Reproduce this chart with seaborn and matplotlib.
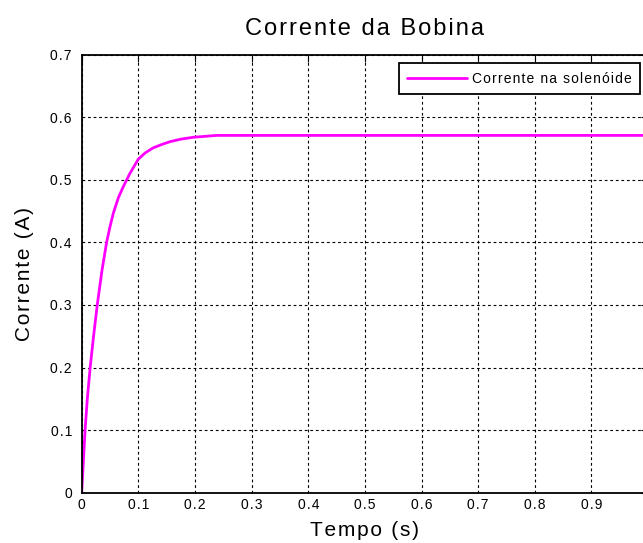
import numpy as np
import matplotlib
matplotlib.use("Agg")
import matplotlib.pyplot as plt
import seaborn as sns

# leitura aproximada da curva (tempo em s, corrente em A)
tempo = [0.0, 0.003, 0.006, 0.010, 0.015, 0.021, 0.0275, 0.036, 0.044, 0.050,
         0.056, 0.065, 0.0735, 0.085, 0.100, 0.112, 0.126, 0.140, 0.156, 0.175,
         0.197, 0.238, 0.30, 0.40, 0.50, 0.60, 0.70, 0.80, 0.90, 1.00]
corrente = [0.0, 0.05, 0.10, 0.15, 0.20, 0.25, 0.30, 0.356, 0.40, 0.425,
            0.447, 0.472, 0.489, 0.510, 0.533, 0.543, 0.551, 0.556, 0.561, 0.565,
            0.568, 0.571, 0.571, 0.571, 0.571, 0.571, 0.571, 0.571, 0.571, 0.571]

xticks = [0, 0.1, 0.2, 0.3, 0.4, 0.5, 0.6, 0.7, 0.8, 0.9]
xticklabels = ["0", "0.1", "0.2", "0.3", "0.4", "0.5", "0.6", "0.7", "0.8", "0.9"]
yticks = [0, 0.1, 0.2, 0.3, 0.4, 0.5, 0.6, 0.7]
yticklabels = ["0", "0.1", "0.2", "0.3", "0.4", "0.5", "0.6", "0.7"]

titulo = "Corrente da Bobina"
rotulo_x = "Tempo (s)"
rotulo_y = "Corrente (A)"
legenda = "Corrente na solenóide"


def espacar(txt, sep="\u200a"):
    # espaçamento entre letras, como no gráfico original
    return sep.join(txt)


sns.set_style("white")
plt.rcParams['font.family'] = ['Liberation Sans', 'DejaVu Sans']
plt.rcParams['text.color'] = 'black'
plt.rcParams['axes.labelcolor'] = 'black'

fig = plt.figure(figsize=(6.43, 5.43), dpi=100)
ax = fig.add_axes([0.127, 0.0926, 0.881, 0.8067])

sns.lineplot(x=tempo, y=corrente, ax=ax, color="#ff00ff", linewidth=2.0,
             label=espacar(legenda))

ax.set_xlim(0, 1)
ax.set_ylim(0, 0.7)
ax.set_xticks(xticks)
ax.set_xticklabels([espacar(s) for s in xticklabels])
ax.set_yticks(yticks)
ax.set_yticklabels([espacar(s) for s in yticklabels])

ax.grid(True, color="black", linestyle=(0, (2.5, 2.5)), linewidth=0.8)
ax.tick_params(direction="in", length=5, width=0.8, top=True, right=True,
               labelsize=10, colors="black")
ax.tick_params(axis="x", pad=4)
ax.tick_params(axis="y", pad=7)
for s in ax.spines.values():
    s.set_color("black")
    s.set_linewidth(1.3)

ax.set_title(espacar(titulo), fontsize=17, pad=14, color="black")
ax.set_xlabel(espacar(rotulo_x), fontsize=15, labelpad=6, color="black")
ax.set_ylabel(espacar(rotulo_y), fontsize=15, labelpad=12, color="black")

leg = ax.legend(loc="upper right", bbox_to_anchor=(0.9864, 0.9804), borderaxespad=0,
                fontsize=10, handlelength=4.3, handletextpad=0.4, borderpad=0.6,
                fancybox=False, framealpha=1, edgecolor="black", labelcolor="black")
leg.get_frame().set_linewidth(1.3)

fig.savefig("out.png", dpi=100)
